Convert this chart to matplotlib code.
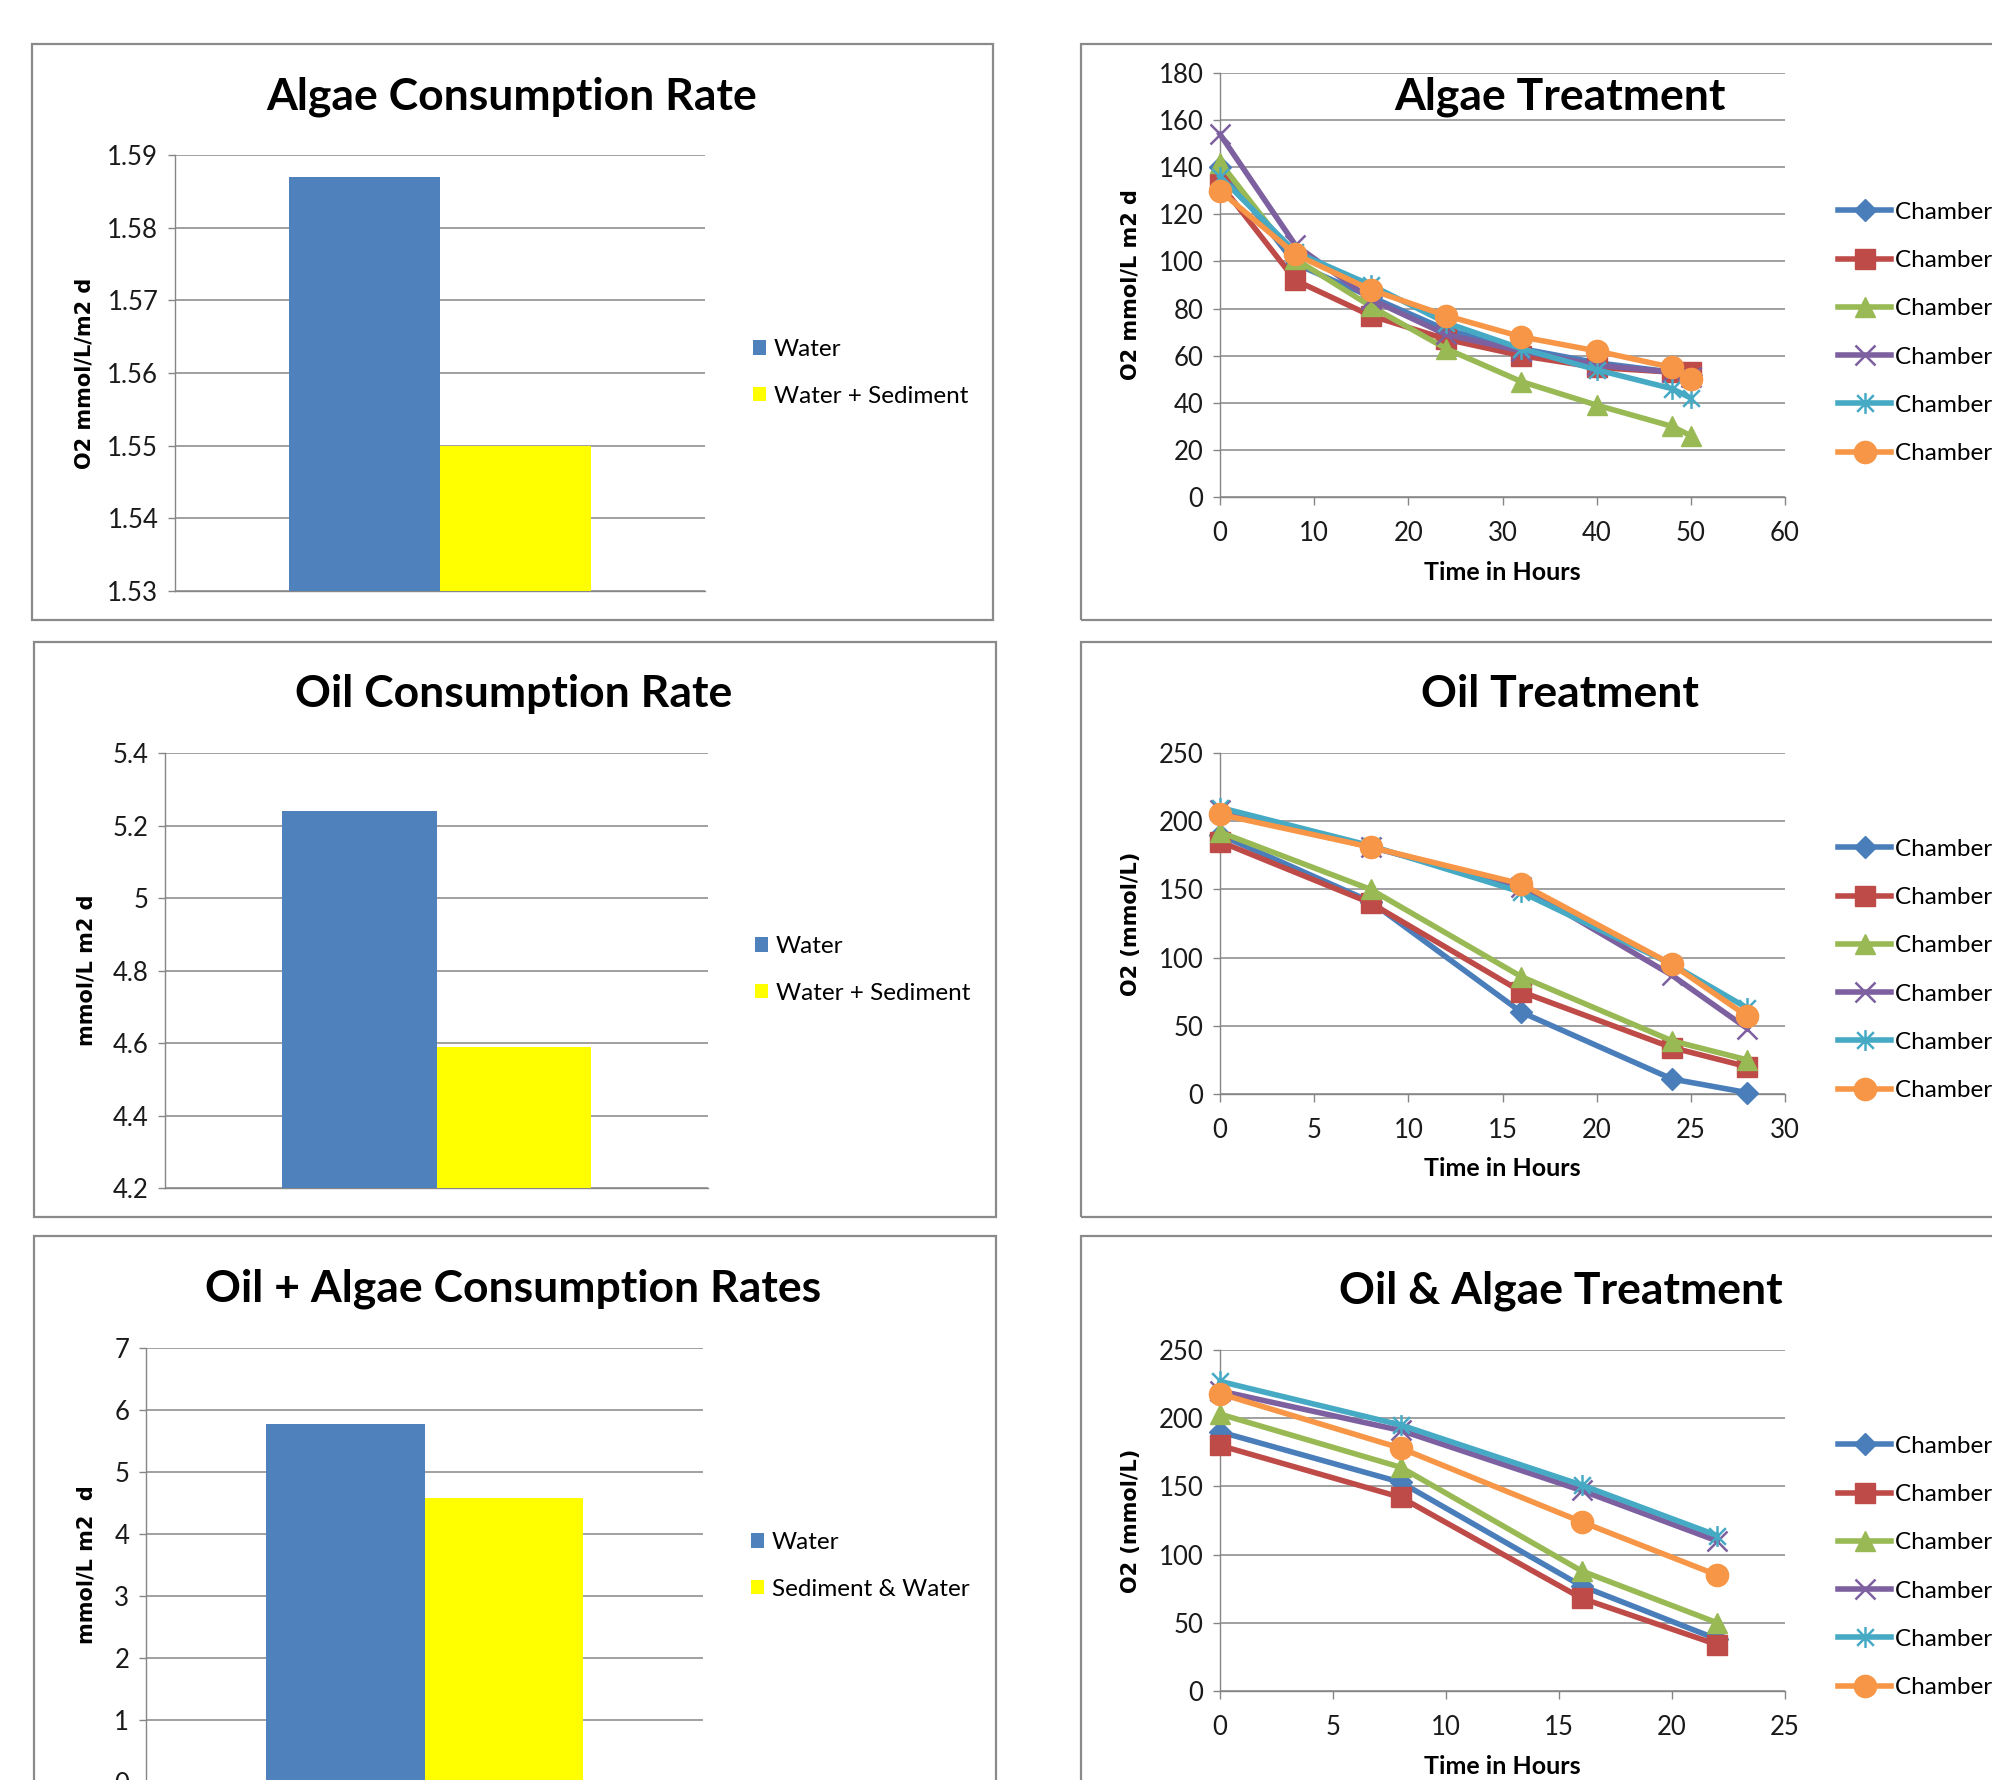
import numpy as np
import matplotlib
matplotlib.use("Agg")
import matplotlib.pyplot as plt
from matplotlib.patches import Rectangle
from matplotlib.path import Path

# ---------------- data ----------------
algae_groups = ["Water", "Water + Sediment"]
algae_rate = [1.587, 1.550]

oil_groups = ["Water", "Water + Sediment"]
oil_rate = [5.24, 4.59]

oa_groups = ["Water", "Sediment & Water"]
oa_rate = [5.78, 4.58]

chambers = ["Chamber 1", "Chamber 2", "Chamber 3", "Chamber 4", "Chamber 5", "Chamber 6"]

algae_hours = [0, 8, 16, 24, 32, 40, 48, 50]
algae_c1 = [140, 99, 85, 71, 63, 57, 53, 52]
algae_c2 = [133, 92, 77, 67, 60, 55, 53, 53]
algae_c3 = [142, 101, 81, 63, 49, 39, 30, 26]
algae_c4 = [154, 107, 84, 69, 62, 56, 53, 51]
algae_c5 = [136, 104, 90, 74, 63, 54, 46, 42]
algae_c6 = [130, 103, 88, 77, 68, 62, 55, 50]

oil_hours = [0, 8, 16, 24, 28]
oil_c1 = [190, 141, 60, 11, 1]
oil_c2 = [185, 140, 75, 34, 20]
oil_c3 = [192, 150, 86, 39, 25]
oil_c4 = [208, 181, 152, 87, 48]
oil_c5 = [210, 182, 148, 95, 63]
oil_c6 = [205, 181, 154, 95, 57]

oa_hours = [0, 8, 16, 22]
oa_c1 = [190, 153, 77, 38]
oa_c2 = [180, 142, 68, 34]
oa_c3 = [203, 164, 88, 50]
oa_c4 = [220, 191, 147, 110]
oa_c5 = [227, 195, 151, 114]
oa_c6 = [218, 178, 124, 85]

# ---------------- style ----------------
W, H = 1992, 1780
DPI = 100
FONT = ["Lato", "DejaVu Sans"]
YLAB_FONT = ["DejaVu Sans"]
GRID = "#868686"
AXC = "#868686"
BORDER = "#8a8a8a"
BAR_COLORS = ["#4F81BD", "#FFFF00"]
LINE_COLORS = ["#4A7EBB", "#BE4B48", "#98B954", "#7D60A0", "#46AAC5", "#F79646"]

TICK_FS = 18.5
TITLE_FS = 32
YLAB_FS = 15
XLAB_FS = 18
LEG_FS = 17.5

star = Path([(-1, -1), (1, 1), (-1, 1), (1, -1), (0, -1.25), (0, 1.25)],
            [Path.MOVETO, Path.LINETO, Path.MOVETO, Path.LINETO, Path.MOVETO, Path.LINETO])
MARKERS = [("D", 11), ("s", 14), ("^", 15), ("x", 15), (star, 15), ("o", 16)]

plt.rcParams["font.family"] = FONT

fig = plt.figure(figsize=(W / DPI, H / DPI), dpi=DPI)
fig.patch.set_facecolor("white")


def frac_rect(x0, y0, x1, y1):
    return [x0 / W, 1 - y1 / H, (x1 - x0) / W, (y1 - y0) / H]


def panel(x0, y0, x1, y1):
    fig.add_artist(Rectangle((x0 / W, 1 - y1 / H), (x1 - x0) / W, (y1 - y0) / H,
                             transform=fig.transFigure, fill=False,
                             ec=BORDER, lw=1.6, zorder=0))


def ftext(x, y, s, **kw):
    fig.text(x / W, 1 - y / H, s, **kw)


def style_axes(ax):
    for s in ("top", "right"):
        ax.spines[s].set_visible(False)
    for s in ("left", "bottom"):
        ax.spines[s].set_color(AXC)
        ax.spines[s].set_linewidth(1.0)
    ax.yaxis.grid(True, color=GRID, lw=1.1)
    ax.set_axisbelow(True)
    ax.tick_params(axis="y", direction="out", length=5, width=1.0, color=AXC,
                   labelsize=TICK_FS, pad=7, labelcolor="#1a1a1a")


def fmt(v):
    return f"{round(v, 4):g}"


def bar_chart(rect, values, groups, yticks, ylabel, ylabel_x, legend_xy):
    ax = fig.add_axes(frac_rect(*rect))
    style_axes(ax)
    w = 0.285
    offsets = [-w / 2, w / 2]
    handles = []
    for off, v, c, g in zip(offsets, values, BAR_COLORS, groups):
        b = ax.bar(off, v - yticks[0], bottom=yticks[0], width=w, color=c, label=g, zorder=3)
        handles.append(b)
    ax.set_xlim(-0.5, 0.5)
    ax.set_ylim(yticks[0], yticks[-1])
    ax.set_yticks(yticks)
    ax.set_yticklabels([fmt(t) for t in yticks])
    ax.set_xticks([])
    ftext(ylabel_x, (rect[1] + rect[3]) / 2, ylabel, rotation=90, ha="center", va="center",
          fontsize=YLAB_FS, fontweight="bold", family=YLAB_FONT)
    ax.legend(handles=handles, loc="center left",
              bbox_to_anchor=(legend_xy[0] / W, 1 - legend_xy[1] / H),
              bbox_transform=fig.transFigure, frameon=False, borderpad=0,
              borderaxespad=0, handlelength=0.55, handleheight=0.55,
              handletextpad=0.3, labelspacing=1.05, fontsize=LEG_FS)
    return ax


def line_chart(rect, hours, series, xticks, yticks, ylabel, ylabel_x, xlabel_y, legend_xy):
    ax = fig.add_axes(frac_rect(*rect))
    style_axes(ax)
    for ys, c, (m, ms), lab in zip(series, LINE_COLORS, MARKERS, chambers):
        thin = (m == "x") or (m is star)
        ax.plot(hours, ys, color=c, lw=4.0, marker=m, markersize=ms,
                markerfacecolor=c, markeredgecolor=c, markeredgewidth=1.8 if thin else 1.0,
                label=lab, zorder=3, clip_on=False)
    ax.set_xlim(xticks[0], xticks[-1])
    ax.set_ylim(yticks[0], yticks[-1])
    ax.set_xticks(xticks)
    ax.set_yticks(yticks)
    ax.set_xticklabels([fmt(t) for t in xticks])
    ax.set_yticklabels([fmt(t) for t in yticks])
    ax.tick_params(axis="x", direction="out", length=6, width=1.0, color=AXC,
                   labelsize=TICK_FS, pad=11, labelcolor="#1a1a1a")
    ftext(ylabel_x, (rect[1] + rect[3]) / 2, ylabel, rotation=90, ha="center", va="center",
          fontsize=YLAB_FS, fontweight="bold", family=YLAB_FONT)
    ftext((rect[0] + rect[2]) / 2, xlabel_y, "Time in Hours", ha="center", va="center",
          fontsize=XLAB_FS, fontweight="bold")
    ax.legend(loc="center left",
              bbox_to_anchor=(legend_xy[0] / W, 1 - legend_xy[1] / H),
              bbox_transform=fig.transFigure, frameon=False, borderpad=0,
              borderaxespad=0, handlelength=2.2, handletextpad=0.15,
              labelspacing=1.12, fontsize=LEG_FS)
    return ax


# ---------------- panels ----------------
panel(32, 44, 993, 620)
panel(1081, 44, 2100, 620)
panel(34, 642, 996, 1217)
panel(1081, 642, 2100, 1217)
panel(34, 1236, 996, 1900)
panel(1081, 1236, 2100, 1900)

# Algae Consumption Rate
bar_chart((175, 155, 705, 591), algae_rate, algae_groups,
          [1.53, 1.54, 1.55, 1.56, 1.57, 1.58, 1.59],
          "O2 mmol/L/m2 d", 84, (753, 373))
ftext(512, 97, "Algae Consumption Rate", ha="center", va="center", fontsize=TITLE_FS, fontweight="bold")

# Oil Consumption Rate
bar_chart((165, 753, 708, 1188), oil_rate, oil_groups,
          [4.2, 4.4, 4.6, 4.8, 5.0, 5.2, 5.4],
          "mmol/L m2 d", 86, (755, 970))
ftext(514, 694, "Oil Consumption Rate", ha="center", va="center", fontsize=TITLE_FS, fontweight="bold")

# Oil + Algae Consumption Rates
bar_chart((146, 1348, 703, 1782), oa_rate, oa_groups,
          [0, 1, 2, 3, 4, 5, 6, 7],
          "mmol/L m2  d", 86, (751, 1566))
ftext(513, 1289, "Oil + Algae Consumption Rates", ha="center", va="center", fontsize=TITLE_FS, fontweight="bold")

# Algae Treatment
line_chart((1220, 73, 1785, 497), algae_hours,
           [algae_c1, algae_c2, algae_c3, algae_c4, algae_c5, algae_c6],
           [0, 10, 20, 30, 40, 50, 60], [0, 20, 40, 60, 80, 100, 120, 140, 160, 180],
           "O2 mmol/L m2 d", 1131, 573, (1838, 333))
ftext(1560, 97, "Algae Treatment", ha="center", va="center", fontsize=TITLE_FS, fontweight="bold")

# Oil Treatment
line_chart((1220, 753, 1785, 1094), oil_hours,
           [oil_c1, oil_c2, oil_c3, oil_c4, oil_c5, oil_c6],
           [0, 5, 10, 15, 20, 25, 30], [0, 50, 100, 150, 200, 250],
           "O2 (mmol/L)", 1131, 1168, (1838, 970))
ftext(1560, 694, "Oil Treatment", ha="center", va="center", fontsize=TITLE_FS, fontweight="bold")

# Oil & Algae Treatment
line_chart((1220, 1350, 1785, 1691), oa_hours,
           [oa_c1, oa_c2, oa_c3, oa_c4, oa_c5, oa_c6],
           [0, 5, 10, 15, 20, 25], [0, 50, 100, 150, 200, 250],
           "O2 (mmol/L)", 1131, 1767, (1838, 1567))
ftext(1561, 1291, "Oil & Algae Treatment", ha="center", va="center", fontsize=TITLE_FS, fontweight="bold")

fig.savefig("out.png", dpi=DPI, facecolor="white")
